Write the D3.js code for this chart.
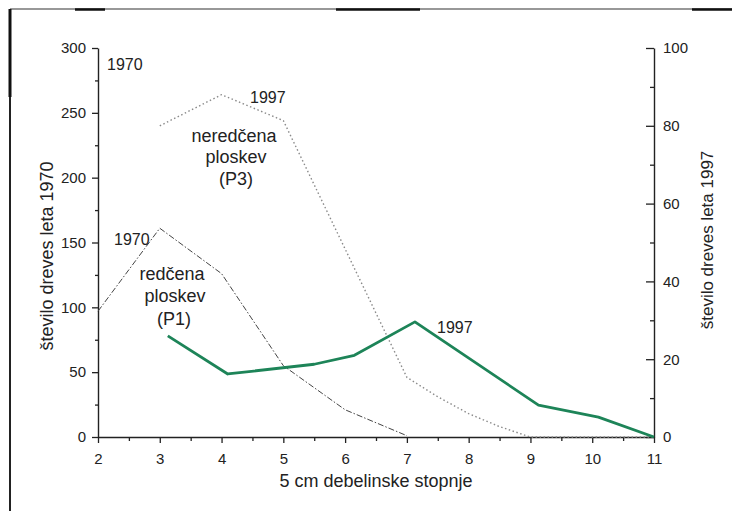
<!DOCTYPE html>
<html>
<head>
<meta charset="utf-8">
<script src="https://cdn.jsdelivr.net/npm/d3@7"></script>
<style>
  body { margin: 0; background: #fff; }
  svg { display: block; font-family: "Liberation Sans", Arial, sans-serif; }
</style>
</head>
<body>
<div id="chart"></div>
<script>
const xTicks = [2, 3, 4, 5, 6, 7, 8, 9, 10, 11];
const xMinor = [2.5, 3.5, 4.5, 5.5, 6.5, 7.5, 8.5, 9.5, 10.5];
const leftTicks = [0, 50, 100, 150, 200, 250, 300];
const leftMinor = [25, 75, 125, 175, 225, 275];
const rightTicks = [0, 20, 40, 60, 80, 100];
const rightMinor = [10, 30, 50, 70, 90];

// redčena ploskev P1, 1970 (left axis)
const p1_1970_x = [2, 3, 4, 5, 6, 7];
const p1_1970_y = [97, 161, 126, 55, 21, 1];

// neredčena ploskev P3 (left axis)
const p3_x = [3, 4, 5, 6, 7, 7.5, 8, 8.5, 9, 10, 11];
const p3_y = [240, 264, 244, 145, 46, 31, 18, 8, 0, 0, 0];

// redčena ploskev P1, 1997 (right axis)
const p1_1997_x = [3.13, 4.1, 5.5, 6.15, 7.13, 9.13, 10.1, 11];
const p1_1997_y = [26, 16.2, 18.7, 21, 29.6, 8.2, 5.1, 0];

const W = 732, H = 511;
const svg = d3.select("#chart").append("svg")
    .attr("width", W)
    .attr("height", H);

svg.append("rect").attr("width", W).attr("height", H).attr("fill", "#fff");

// scanned frame
svg.append("line").attr("x1", 10).attr("y1", 9).attr("x2", W).attr("y2", 9)
    .attr("stroke", "#333").attr("stroke-width", 1.2);
[[75, 105], [336, 420], [692, 732]].forEach(s => {
    svg.append("line").attr("x1", s[0]).attr("y1", 9.5).attr("x2", s[1]).attr("y2", 9.5)
        .attr("stroke", "#111").attr("stroke-width", 2.5);
});
svg.append("line").attr("x1", 10).attr("y1", 9).attr("x2", 10).attr("y2", H)
    .attr("stroke", "#222").attr("stroke-width", 2);
svg.append("line").attr("x1", 10).attr("y1", 9).attr("x2", 10).attr("y2", 97)
    .attr("stroke", "#111").attr("stroke-width", 3);

const x = d3.scaleLinear().domain([2, 11]).range([98, 654]);
const yL = d3.scaleLinear().domain([0, 300]).range([437, 48]);
const yR = d3.scaleLinear().domain([0, 100]).range([437, 48]);

// axes
const gx = svg.append("g").attr("transform", "translate(0,437)")
    .call(d3.axisBottom(x).tickValues(xTicks).tickSize(6).tickSizeOuter(0).tickPadding(10));
svg.append("g").attr("transform", "translate(0,437)")
    .call(d3.axisBottom(x).tickValues(xMinor).tickSize(4).tickFormat(""))
    .select(".domain").remove();

const gl = svg.append("g").attr("transform", "translate(98,0)")
    .call(d3.axisLeft(yL).tickValues(leftTicks).tickSize(6).tickSizeOuter(0).tickPadding(6));
svg.append("g").attr("transform", "translate(98,0)")
    .call(d3.axisLeft(yL).tickValues(leftMinor).tickSize(3).tickFormat(""))
    .select(".domain").remove();

const gr = svg.append("g").attr("transform", "translate(654,0)")
    .call(d3.axisRight(yR).tickValues(rightTicks).tickSize(-8).tickSizeOuter(0).tickPadding(9));
svg.append("g").attr("transform", "translate(654,0)")
    .call(d3.axisRight(yR).tickValues(rightMinor).tickSize(-4).tickFormat(""))
    .select(".domain").remove();

svg.selectAll(".tick line").attr("stroke", "#222").attr("stroke-width", 1.3);
svg.selectAll(".domain").attr("stroke", "#222").attr("stroke-width", 1.4);
svg.selectAll(".tick text")
    .attr("fill", "#222")
    .style("font-size", "15px")
    .style("font-family", "'Liberation Sans', Arial, sans-serif");

// lines
const pts = (xs, ys) => xs.map((d, i) => [d, ys[i]]);

svg.append("path")
    .datum(pts(p3_x, p3_y))
    .attr("fill", "none")
    .attr("stroke", "#8a8a8a")
    .attr("stroke-width", 1.4)
    .attr("stroke-dasharray", "1.5,2.5")
    .attr("d", d3.line().x(d => x(d[0])).y(d => yL(d[1])));

svg.append("path")
    .datum(pts(p1_1970_x, p1_1970_y))
    .attr("fill", "none")
    .attr("stroke", "#444")
    .attr("stroke-width", 1)
    .attr("stroke-dasharray", "6,2,1.5,2")
    .attr("d", d3.line().x(d => x(d[0])).y(d => yL(d[1])));

svg.append("path")
    .datum(pts(p1_1997_x, p1_1997_y))
    .attr("fill", "none")
    .attr("stroke", "#1d8458")
    .attr("stroke-width", 2.8)
    .attr("stroke-linejoin", "round")
    .attr("d", d3.line().x(d => x(d[0])).y(d => yR(d[1])));

// annotations
const notes = [
    { t: "1970", x: 107, y: 70, a: "start", s: 16 },
    { t: "1997", x: 250, y: 103, a: "start", s: 16 },
    { t: "neredčena", x: 234, y: 142, a: "middle", s: 18 },
    { t: "ploskev", x: 236, y: 163, a: "middle", s: 18 },
    { t: "(P3)", x: 236, y: 185, a: "middle", s: 18 },
    { t: "1970", x: 114, y: 245, a: "start", s: 16 },
    { t: "redčena", x: 172, y: 280, a: "middle", s: 18 },
    { t: "ploskev", x: 175, y: 302, a: "middle", s: 18 },
    { t: "(P1)", x: 174, y: 325, a: "middle", s: 18 },
    { t: "1997", x: 437, y: 333, a: "start", s: 16 }
];
svg.selectAll(".note")
    .data(notes)
    .enter().append("text")
    .attr("class", "note")
    .attr("x", d => d.x)
    .attr("y", d => d.y)
    .attr("text-anchor", d => d.a)
    .style("font-size", d => d.s + "px")
    .attr("fill", "#222")
    .text(d => d.t);

// axis titles
svg.append("text")
    .attr("x", 376).attr("y", 487)
    .attr("text-anchor", "middle")
    .style("font-size", "18px")
    .attr("fill", "#222")
    .text("5 cm debelinske stopnje");

svg.append("text")
    .attr("transform", "translate(53,256) rotate(-90)")
    .attr("text-anchor", "middle")
    .style("font-size", "18px")
    .attr("fill", "#222")
    .text("število dreves leta 1970");

svg.append("text")
    .attr("transform", "translate(713,240) rotate(-90)")
    .attr("text-anchor", "middle")
    .style("font-size", "17px")
    .attr("fill", "#222")
    .text("število dreves leta 1997");
</script>
</body>
</html>
